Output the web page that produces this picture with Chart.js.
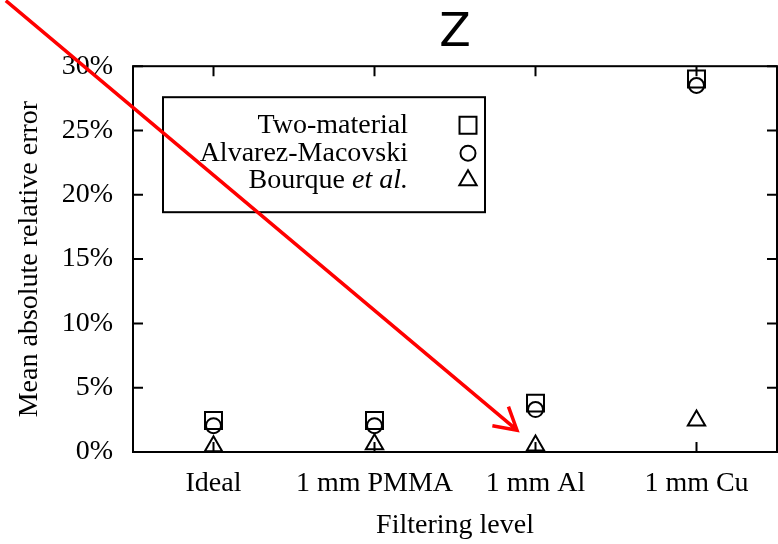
<!DOCTYPE html>
<html>
<head>
<meta charset="utf-8">
<script src="https://cdn.jsdelivr.net/npm/chart.js@4/dist/chart.umd.min.js"></script>
<style>
html,body{margin:0;padding:0;background:#fff;}
#wrap{width:778px;height:544px;}
</style>
</head>
<body>
<div id="wrap"><canvas id="c" width="778" height="544"></canvas></div>
<script>
const categories = ['Ideal', '1 mm PMMA', '1 mm Al', '1 mm Cu'];
const twoMaterial = [2.45, 2.45, 3.8, 29.0];
const alvarezMacovski = [2.05, 2.05, 3.3, 28.5];
const bourque = [0.45, 0.6, 0.5, 2.45];
const yTicks = [0, 5, 10, 15, 20, 25, 30];
const seriesNames = ['Two-material', 'Alvarez-Macovski', 'Bourque'];
const arrowFrom = [-1.29, 35.1];
const arrowTo = [1.885, 1.7];

const SERIF = '"Liberation Serif", "Times New Roman", serif';
const FS = 28;

const frame = {
  id: 'frame',
  afterDatasetsDraw(chart) {
    const {ctx, chartArea: a, scales: {x, y}} = chart;
    ctx.save();
    ctx.strokeStyle = '#000';
    ctx.lineWidth = 2;
    ctx.strokeRect(a.left, a.top, a.right - a.left, a.bottom - a.top);
    const L = 10;
    ctx.beginPath();
    yTicks.forEach(v => {
      const py = y.getPixelForValue(v);
      ctx.moveTo(a.left, py); ctx.lineTo(a.left + L, py);
      ctx.moveTo(a.right, py); ctx.lineTo(a.right - L, py);
    });
    categories.forEach((c, i) => {
      const px = x.getPixelForValue(i);
      ctx.moveTo(px, a.bottom); ctx.lineTo(px, a.bottom - L);
      ctx.moveTo(px, a.top); ctx.lineTo(px, a.top + L);
    });
    ctx.stroke();
    ctx.restore();
  },
  afterDraw(chart) {
    const {ctx, chartArea: a, scales: {x, y}} = chart;
    ctx.save();
    // legend box
    const bx = a.left + 30, by = a.top + 31, bw = 322, bh = 115;
    ctx.strokeStyle = '#000';
    ctx.lineWidth = 2;
    ctx.strokeRect(bx, by, bw, bh);
    const textRight = bx + 245;
    const markX = bx + 305;
    const rows = [by + 28, by + 56, by + 83];
    ctx.fillStyle = '#000';
    ctx.textBaseline = 'middle';
    ctx.textAlign = 'right';
    ctx.font = FS + 'px ' + SERIF;
    ctx.fillText(seriesNames[0], textRight, rows[0]);
    ctx.fillText(seriesNames[1], textRight, rows[1]);
    ctx.font = 'italic ' + FS + 'px ' + SERIF;
    const italicPart = 'et al.';
    const iw = ctx.measureText(italicPart).width;
    ctx.fillText(italicPart, textRight, rows[2]);
    ctx.font = FS + 'px ' + SERIF;
    ctx.fillText(seriesNames[2] + ' ', textRight - iw, rows[2]);
    chart.data.datasets.forEach((ds, i) => {
      ctx.fillStyle = 'rgba(0,0,0,0)';
      ctx.strokeStyle = '#000';
      ctx.lineWidth = 2;
      Chart.helpers.drawPoint(ctx, {
        pointStyle: ds.pointStyle, radius: ds.pointRadius, rotation: 0, borderWidth: 2
      }, markX, rows[i]);
    });
    // red arrow annotation
    const x0 = x.getPixelForValue(arrowFrom[0]), y0 = y.getPixelForValue(arrowFrom[1]);
    const x1 = x.getPixelForValue(arrowTo[0]), y1 = y.getPixelForValue(arrowTo[1]);
    ctx.strokeStyle = '#ff0000';
    ctx.lineWidth = 3.5;
    ctx.lineCap = 'butt';
    ctx.beginPath();
    ctx.moveTo(x0, y0); ctx.lineTo(x1, y1);
    const ang = Math.atan2(y1 - y0, x1 - x0);
    const hl = 25, spread = Math.PI / 6;
    ctx.moveTo(x1 - hl * Math.cos(ang - spread), y1 - hl * Math.sin(ang - spread));
    ctx.lineTo(x1, y1);
    ctx.lineTo(x1 - hl * Math.cos(ang + spread), y1 - hl * Math.sin(ang + spread));
    ctx.stroke();
    ctx.restore();
  }
};

const mk = (label, data, style, r) => ({
  label, data, pointStyle: style, pointRadius: r, pointHoverRadius: r,
  borderColor: '#000', backgroundColor: 'rgba(0,0,0,0)', pointBorderWidth: 2,
  borderWidth: 2, showLine: false, clip: false
});

new Chart(document.getElementById('c'), {
  type: 'line',
  data: {
    labels: categories,
    datasets: [
      mk(seriesNames[0], twoMaterial, 'rect', 12),
      mk(seriesNames[1], alvarezMacovski, 'circle', 7.5),
      mk(seriesNames[2], bourque, 'triangle', 10)
    ]
  },
  options: {
    responsive: false,
    animation: false,
    events: [],
    layout: {autoPadding: false, padding: {left: 13, right: 1, top: 0, bottom: 0}},
    plugins: {
      legend: {display: false},
      tooltip: {enabled: false},
      title: {
        display: true, text: 'Z', fullSize: false, color: '#000',
        font: {family: '"DejaVu Sans", sans-serif', size: 46, weight: 'normal', lineHeight: 1.2},
        padding: {top: 6, bottom: 5}
      }
    },
    scales: {
      x: {
        type: 'category', offset: true,
        grid: {display: false, drawTicks: false},
        border: {display: false},
        ticks: {color: '#000', padding: 15, font: {family: SERIF, size: FS}, maxRotation: 0, autoSkip: false},
        title: {display: true, text: 'Filtering level', color: '#000', font: {family: SERIF, size: FS}, padding: {top: 0, bottom: 2}},
        afterFit(s) { s.height = 92; s.paddingLeft = 0; s.paddingRight = 0; }
      },
      y: {
        min: 0, max: 30,
        grid: {display: false, drawTicks: false},
        border: {display: false},
        afterBuildTicks(s) { s.ticks = yTicks.map(v => ({value: v})); },
        ticks: {color: '#000', padding: 20, font: {family: SERIF, size: FS}, callback: v => v + '%'},
        title: {display: true, text: 'Mean absolute relative error', color: '#000', font: {family: SERIF, size: FS}, padding: {top: 0, bottom: 0}},
        afterFit(s) { s.width = 120; }
      }
    }
  },
  plugins: [frame]
});
</script>
</body>
</html>
